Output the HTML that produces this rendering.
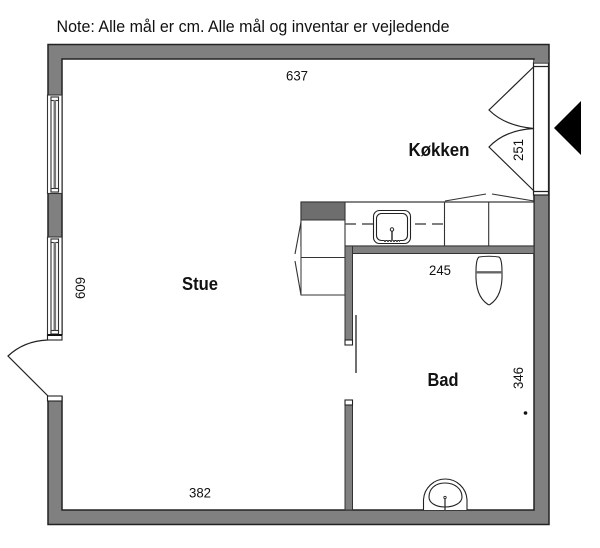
<!DOCTYPE html>
<html><head><meta charset="utf-8"><style>html,body{margin:0;padding:0;background:#fff}svg{display:block}text{font-family:"Liberation Sans",sans-serif;fill:#111}</style></head>
<body>
<svg width="600" height="548" viewBox="0 0 600 548" xmlns="http://www.w3.org/2000/svg">
<rect width="600" height="548" fill="#fff"/>
<text x="56.500" y="32" font-size="16.500" textLength="393" lengthAdjust="spacingAndGlyphs">Note: Alle mål er cm. Alle mål og inventar er vejledende</text>
<!-- outer walls -->
<rect x="48" y="44.500" width="501" height="480" fill="#808080" stroke="#222" stroke-width="1.500"/>
<rect x="62" y="59" width="472" height="451" fill="#fff" stroke="#222" stroke-width="1.500"/>
<!-- right opening -->
<rect x="533.500" y="63" width="15" height="132" fill="#fff" stroke="#222" stroke-width="1.200"/>
<path d="M534 66.500H549M534 191.500H549" stroke="#222" stroke-width="1.200"/>
<rect x="534" y="59.800" width="14.500" height="3" fill="#808080"/>
<path d="M534 66.500L489 110Q505 126 534 128.500Q505 130 489 147L534 191" fill="none" stroke="#222" stroke-width="1.200"/>
<path d="M554 128L581 101V155Z" fill="#000"/>
<!-- left windows -->
<g fill="#fff" stroke="#333" stroke-width="1.100">
<rect x="47.500" y="95" width="14.500" height="98.500"/>
<rect x="51" y="97" width="7.500" height="95"/>
<rect x="51" y="97" width="7.500" height="3.500"/>
<rect x="51" y="188.500" width="7.500" height="3.500"/>
<rect x="47.500" y="237" width="14.500" height="98.500"/>
<rect x="51" y="239" width="7.500" height="95"/>
<rect x="51" y="239" width="7.500" height="3.500"/>
<rect x="51" y="330.500" width="7.500" height="3.500"/>
</g>
<rect x="53.500" y="100" width="2.600" height="88" fill="#777"/>
<rect x="53.500" y="242" width="2.600" height="88" fill="#777"/>
<!-- left door -->
<rect x="47" y="335" width="16" height="61" fill="#fff"/>
<rect x="47.500" y="335" width="14.500" height="5" fill="#fff" stroke="#222" stroke-width="1.100"/>
<path d="M47.500 335H62" stroke="#111" stroke-width="2"/>
<rect x="47.500" y="396" width="14.500" height="5" fill="#fff" stroke="#222" stroke-width="1.100"/>
<path d="M47.500 340Q24 341 8 356L48 396" fill="none" stroke="#222" stroke-width="1.200"/>
<!-- kitchen counter -->
<rect x="301" y="202" width="233" height="44" fill="#fff" stroke="#333" stroke-width="1.200"/>
<rect x="301" y="202" width="44" height="18" fill="#6e6e6e" stroke="#333" stroke-width="1"/>
<rect x="301" y="220" width="44" height="37.500" fill="#fff" stroke="#333" stroke-width="1"/>
<rect x="301" y="257.500" width="44" height="37.500" fill="#fff" stroke="#333" stroke-width="1"/>
<path d="M345 202V295" stroke="#333" stroke-width="1.100"/>
<path d="M444.500 202V246M488.700 202V246" stroke="#333" stroke-width="1.100"/>
<path d="M301 222L295 254M295 261L301 295M445 201L486 194M492 194L534 201" fill="none" stroke="#333" stroke-width="1.100"/>
<path d="M345 224H373M415 224H444" stroke="#555" stroke-width="1.500" stroke-dasharray="11 6"/>
<!-- kitchen sink -->
<rect x="373.500" y="210.500" width="37" height="33" rx="6" fill="#fff" stroke="#222" stroke-width="1.100"/>
<rect x="376.500" y="213.500" width="31" height="27" rx="5" fill="#fff" stroke="#222" stroke-width="1.100"/>
<path d="M392 229V241" stroke="#666" stroke-width="2"/>
<circle cx="392" cy="229.500" r="1.700" fill="#fff" stroke="#222"/>
<path d="M384 241H400" stroke="#555" stroke-width="2" stroke-dasharray="2 1"/>
<!-- interior walls -->
<rect x="345" y="246" width="189" height="7.500" fill="#808080" stroke="#333" stroke-width="1"/>
<rect x="345" y="246" width="7.500" height="94" fill="#808080" stroke="#333" stroke-width="1"/>
<rect x="346" y="246.600" width="5.500" height="7" fill="#808080"/>
<rect x="345" y="340" width="7.500" height="5" fill="#fff" stroke="#222" stroke-width="1.100"/>
<rect x="345" y="405" width="7.500" height="105" fill="#808080" stroke="#333" stroke-width="1"/>
<rect x="345" y="400" width="7.500" height="5" fill="#fff" stroke="#222" stroke-width="1.100"/>
<path d="M356 315V373" stroke="#222" stroke-width="1.300"/>
<!-- toilet -->
<path d="M479 257Q489 255.500 499 257Q502 259 502 272Q503 296 490 304.500Q489 305 488 304.500Q475 296 476 272Q476 259 479 257Z" fill="#fff" stroke="#222" stroke-width="1.100"/>
<path d="M476 272.300H502" stroke="#666" stroke-width="2.400"/>
<!-- bathroom sink -->
<path d="M423.500 510V499.500A21.800 22 0 0 1 467 499.500V510" fill="#fff" stroke="#222" stroke-width="1.100"/>
<path d="M445 483C435 483 429 489 429 497C429 503 436 507 445 507C454 507 462 503 462 497C462 489 455 483 445 483Z" fill="#fff" stroke="#222" stroke-width="1.100"/>
<path d="M445 499V510" stroke="#222" stroke-width="1.200"/>
<circle cx="445" cy="497.500" r="1.200" fill="#fff" stroke="#222" stroke-width="0.800"/>
<circle cx="525.500" cy="413" r="1.800" fill="#111"/>
<!-- labels -->
<g font-size="14">
<text x="286" y="80.500" textLength="22" lengthAdjust="spacingAndGlyphs">637</text>
<text x="429" y="275" textLength="22" lengthAdjust="spacingAndGlyphs">245</text>
<text x="189" y="497.500" textLength="22" lengthAdjust="spacingAndGlyphs">382</text>
<text transform="translate(523,161) rotate(-90)" textLength="22" lengthAdjust="spacingAndGlyphs">251</text>
<text transform="translate(85,299) rotate(-90)" textLength="22" lengthAdjust="spacingAndGlyphs">609</text>
<text transform="translate(523,389) rotate(-90)" textLength="22" lengthAdjust="spacingAndGlyphs">346</text>
</g>
<g font-size="18" font-weight="bold">
<text x="408.500" y="156" textLength="61" lengthAdjust="spacingAndGlyphs">Køkken</text>
<text x="182" y="290" textLength="36" lengthAdjust="spacingAndGlyphs">Stue</text>
<text x="427.500" y="386" textLength="31" lengthAdjust="spacingAndGlyphs">Bad</text>
</g>
</svg>
</body></html>
